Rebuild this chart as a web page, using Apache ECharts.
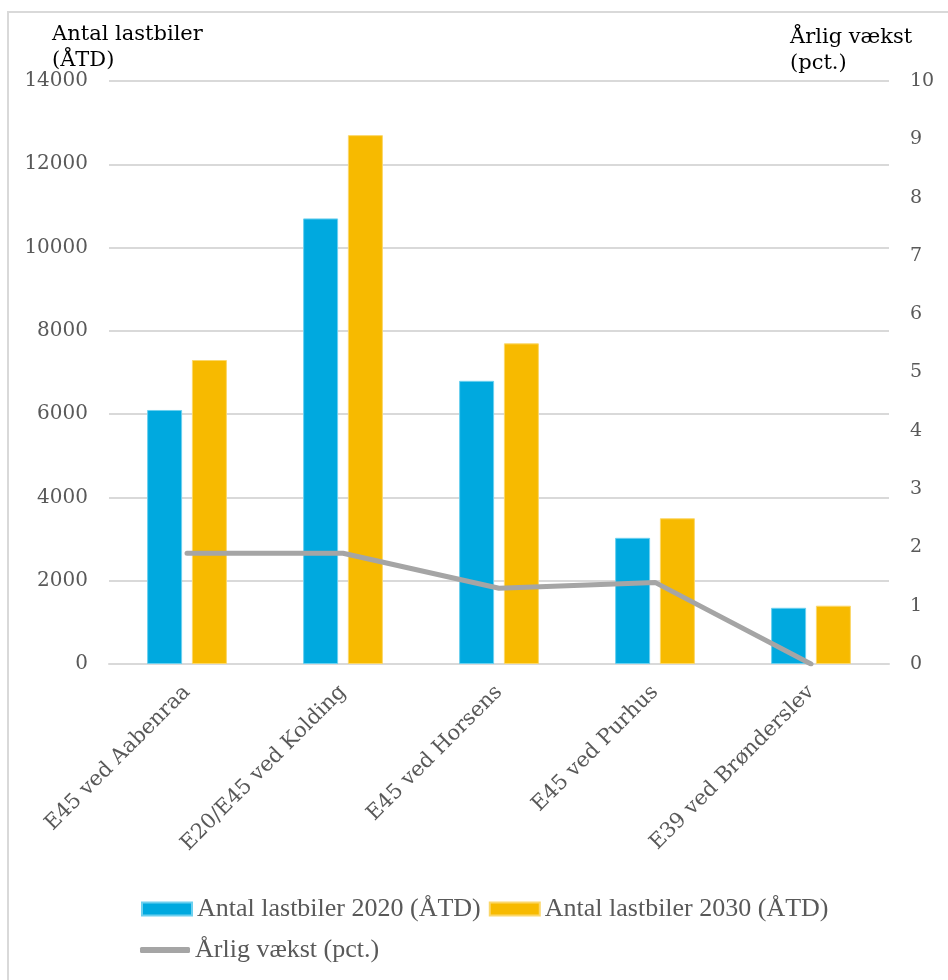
<!DOCTYPE html>
<html>
<head>
<meta charset="utf-8">
<script src="https://cdn.jsdelivr.net/npm/echarts@6/dist/echarts.min.js"></script>
<style>
  html, body { margin: 0; padding: 0; background: #ffffff; }
  #chart { width: 948px; height: 980px; }
</style>
</head>
<body>
<div id="chart"></div>
<script>
// Lastbiltrafik på udvalgte motorvejsstrækninger
const categories = ['E45 ved Aabenraa', 'E20/E45 ved Kolding', 'E45 ved Horsens', 'E45 ved Purhus', 'E39 ved Brønderslev'];
const trucks2020 = [6100, 10700, 6800, 3030, 1350];
const trucks2030 = [7300, 12700, 7700, 3500, 1400];
const growthPct = [1.9, 1.9, 1.3, 1.4, 0];

const seriesNames = ['Antal lastbiler 2020 (ÅTD)', 'Antal lastbiler 2030 (ÅTD)', 'Årlig vækst (pct.)'];
const leftAxisTitle = 'Antal lastbiler\n(ÅTD)';
const rightAxisTitle = 'Årlig vækst\n(pct.)';

const serif = '"DejaVu Serif", "Liberation Serif", serif';
const legendFont = '"Liberation Serif", "DejaVu Serif", serif';
const tickColor = '#595959';

const chart = echarts.init(document.getElementById('chart'), null, { renderer: 'canvas' });

chart.setOption({
  animation: false,
  backgroundColor: '#ffffff',
  grid: { left: 109, right: 59, top: 81, bottom: 316, containLabel: false },
  graphic: [
    {
      type: 'rect', silent: true, z: -1,
      shape: { x: 8, y: 12, width: 1200, height: 1200 },
      style: { fill: 'none', stroke: '#d9d9d9', lineWidth: 2 }
    },
    {
      type: 'text', left: 52, top: 22,
      style: { text: leftAxisTitle, font: '21px ' + serif, fill: '#000000', lineHeight: 26 }
    },
    {
      type: 'text', left: 790, top: 25,
      style: { text: rightAxisTitle, font: '21px ' + serif, fill: '#000000', lineHeight: 26 }
    }
  ],
  legend: [
    {
      data: [seriesNames[0], seriesNames[1]],
      left: 141, top: 896, padding: 0,
      itemWidth: 50, itemHeight: 13, itemGap: 8,
      icon: 'rect',
      textStyle: { fontFamily: legendFont, fontSize: 26, color: tickColor }
    },
    {
      data: [seriesNames[2]],
      left: 140, top: 937, padding: 0,
      itemWidth: 50, itemHeight: 6,
      icon: 'roundRect',
      textStyle: { fontFamily: legendFont, fontSize: 26, color: tickColor }
    }
  ],
  xAxis: {
    type: 'category',
    data: categories,
    axisLine: { show: true, lineStyle: { color: '#d9d9d9', width: 2 } },
    axisTick: { show: false },
    axisLabel: {
      rotate: 45, margin: 25, interval: 0,
      fontFamily: serif, fontSize: 21, color: tickColor
    }
  },
  yAxis: [
    {
      type: 'value', min: 0, max: 14000, interval: 2000,
      axisLine: { show: false }, axisTick: { show: false },
      splitLine: { lineStyle: { color: '#d9d9d9', width: 2 } },
      axisLabel: {
        margin: 21, fontFamily: serif, fontSize: 20, color: tickColor,
        formatter: (v) => String(v)
      }
    },
    {
      type: 'value', min: 0, max: 10, interval: 1, position: 'right',
      axisLine: { show: false }, axisTick: { show: false },
      splitLine: { show: false },
      axisLabel: {
        margin: 21, fontFamily: serif, fontSize: 19, color: tickColor,
        formatter: (v) => String(v)
      }
    }
  ],
  series: [
    {
      name: seriesNames[0], type: 'bar', data: trucks2020,
      barWidth: 35, barGap: '28%',
      itemStyle: { color: '#00a9df', borderColor: '#6cd0ef', borderWidth: 1 }
    },
    {
      name: seriesNames[1], type: 'bar', data: trucks2030,
      barWidth: 35, barGap: '28%',
      itemStyle: { color: '#f7ba00', borderColor: '#fbd76a', borderWidth: 1 }
    },
    {
      name: seriesNames[2], type: 'line', yAxisIndex: 1, data: growthPct,
      showSymbol: false, symbol: 'none',
      lineStyle: { color: '#a5a5a5', width: 5, cap: 'round', join: 'round' },
      itemStyle: { color: '#a5a5a5' },
      z: 5
    }
  ]
});
</script>
</body>
</html>
